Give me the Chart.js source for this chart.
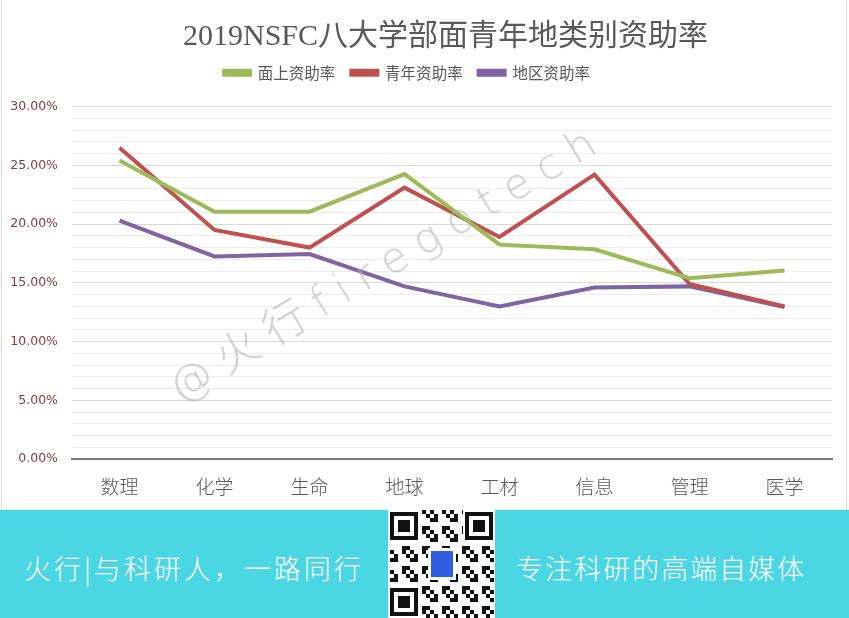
<!DOCTYPE html>
<html>
<head>
<meta charset="utf-8">
<script src="https://cdn.jsdelivr.net/npm/chart.js@4/dist/chart.umd.min.js"></script>
<style>
  html, body { margin: 0; padding: 0; background: #fff; }
  body { width: 849px; height: 618px; position: relative; overflow: hidden; }
  #chartBox { position: absolute; left: 0; top: 0; width: 849px; height: 508px; }
  #title {
    position: absolute; left: 183px; top: 16px; height: 38px; line-height: 38px;
    font-family: "Liberation Serif", "Noto Sans CJK SC", serif; font-size: 30px;
    color: #595959; white-space: nowrap;
  }
  .frame { position: absolute; top: 0; height: 510px; width: 1px; background: #d6d6d6; }
  #mark {
    position: absolute; left: 385px; top: 258px;
    transform: translate(-50%, -50%) rotate(-31deg);
    font-family: "DejaVu Sans", "Noto Sans CJK SC", sans-serif; font-weight: 300;
    font-size: 43px; letter-spacing: 12px; color: rgba(175,175,175,0.6);
    white-space: nowrap; pointer-events: none;
  }
  #banner { position: absolute; left: 0; top: 510px; width: 849px; height: 108px; background: #4bd6e3; }
  .slogan {
    position: absolute; top: 38px; color: #fff; font-size: 27px; letter-spacing: 3px;
    font-family: "Noto Sans CJK SC", sans-serif; font-weight: 300; white-space: nowrap;
  }
  #qr { position: absolute; left: 388px; top: -2px; width: 107px; height: 110px; background: #fff; }
</style>
</head>
<body>
<div id="chartBox"><canvas id="rateChart"></canvas></div>
<div id="title">2019NSFC八大学部面青年地类别资助率</div>
<div class="frame" style="left:1px"></div>
<div class="frame" style="left:846px"></div>
<div id="mark">@火行firegotech</div>
<div id="banner">
  <div class="slogan" style="left:24px">火行|与科研人，一路同行</div>
  <canvas id="qr" width="107" height="110"></canvas>
  <div class="slogan" style="left:516px; letter-spacing: 2px">专注科研的高端自媒体</div>
</div>
<script>
// categories and series (percent)
const categories = ['数理', '化学', '生命', '地球', '工材', '信息', '管理', '医学'];
const generalRate = [25.4, 21.05, 21.05, 24.25, 18.25, 17.85, 15.4, 16.05];
const youthRate   = [26.5, 19.5, 18.0, 23.1, 18.9, 24.2, 14.9, 13.0];
const regionRate  = [20.3, 17.25, 17.45, 14.7, 13.0, 14.6, 14.7, 12.95];
const seriesNames = ['面上资助率', '青年资助率', '地区资助率'];

function makeSet(label, data, color) {
  return {
    label: label,
    data: data,
    borderColor: color,
    backgroundColor: color,
    borderWidth: 4,
    pointRadius: 0,
    tension: 0,
    fill: false
  };
}

// give the legend a bit more room below it, and nudge it left like the original
const legendTweak = {
  id: 'legendTweak',
  beforeInit(chart) {
    const fit = chart.legend.fit;
    chart.legend.fit = function() {
      fit.call(this);
      this.height += 16;
    };
  },
  afterLayout(chart) {
    chart.legend.left -= 9;
    chart.legend.right -= 9;
  }
};

const ctx = document.getElementById('rateChart');
new Chart(ctx, {
  type: 'line',
  data: {
    labels: categories,
    datasets: [
      makeSet(seriesNames[0], generalRate, '#9bbb59'),
      makeSet(seriesNames[1], youthRate, '#c0504d'),
      makeSet(seriesNames[2], regionRate, '#8064a2')
    ]
  },
  plugins: [legendTweak],
  options: {
    responsive: true,
    maintainAspectRatio: false,
    animation: false,
    layout: { padding: { top: 49, right: 17, left: 0, bottom: 2 } },
    plugins: {
      title: { display: false },
      legend: {
        position: 'top',
        labels: {
          boxWidth: 26,
          boxHeight: 4,
          padding: 16,
          color: '#595959',
          font: { size: 15.5, family: '"Noto Sans CJK SC", sans-serif' }
        }
      },
      tooltip: { enabled: false }
    },
    scales: {
      x: {
        offset: true,
        grid: { display: false },
        border: { display: true, color: '#7a7a7a', width: 2 },
        ticks: {
          color: '#595959',
          padding: 8,
          font: { size: 19, family: '"Noto Sans CJK SC", sans-serif', weight: 300 }
        }
      },
      y: {
        min: 0,
        max: 30,
        afterFit: function(scale) { scale.width = 72; },
        border: { display: false },
        grid: {
          drawTicks: false,
          color: function(c) {
            return c.tick.value % 5 === 0 ? '#d9d9d9' : '#f3e9e9';
          }
        },
        ticks: {
          stepSize: 1,
          autoSkip: false,
          padding: 14,
          color: '#853d3d',
          font: { size: 12.5, family: '"DejaVu Sans", sans-serif' },
          callback: function(v) {
            return v % 5 === 0 ? v.toFixed(2) + '%' : '';
          }
        }
      }
    }
  }
});

// QR-like decoration
const qr = document.getElementById('qr').getContext('2d');
qr.fillStyle = '#fff';
qr.fillRect(0, 0, 107, 110);
qr.fillStyle = '#111';
const cell = 4;
for (let i = 0; i < 26; i++) {
  for (let j = 0; j < 27; j++) {
    if (((i * 7 + j * 13 + i * j) % 5) < 2) qr.fillRect(2 + i * cell, 2 + j * cell, cell, cell);
  }
}
function finder(x, y) {
  qr.fillStyle = '#fff'; qr.fillRect(x - 2, y - 2, 32, 32);
  qr.fillStyle = '#111'; qr.fillRect(x, y, 28, 28);
  qr.fillStyle = '#fff'; qr.fillRect(x + 4, y + 4, 20, 20);
  qr.fillStyle = '#111'; qr.fillRect(x + 8, y + 8, 12, 12);
}
finder(2, 4); finder(77, 4); finder(2, 80);
qr.fillStyle = '#fff'; qr.fillRect(40, 40, 28, 32);
qr.fillStyle = '#2f5fe0'; qr.fillRect(43, 43, 22, 26);
</script>
</body>
</html>
